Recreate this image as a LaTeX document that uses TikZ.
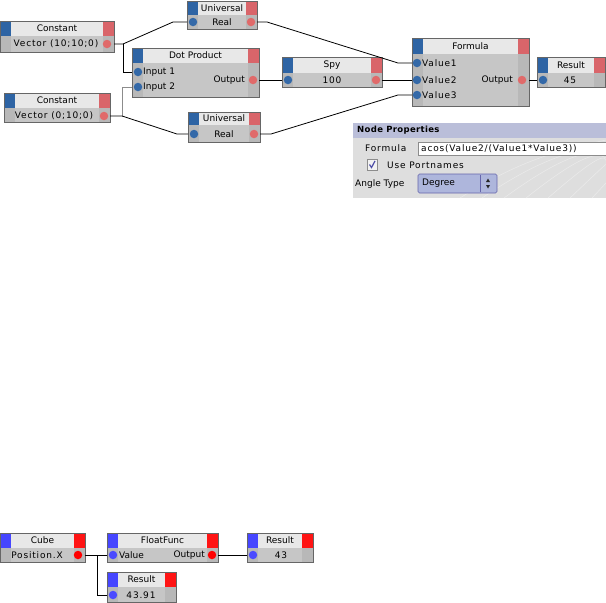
\documentclass[tikz,border=0pt]{standalone}
\usepackage{fontspec}
\setmainfont{DejaVu Sans}
\newfontfamily\wfont[LetterSpace=9]{DejaVu Sans}
\newfontfamily\wbfont[LetterSpace=4]{DejaVu Sans Bold}
\definecolor{tb}{HTML}{2E64A4}
\definecolor{tr}{HTML}{D9656A}
\definecolor{bb}{HTML}{4646FF}
\definecolor{br}{HTML}{FF1414}
\definecolor{tdb}{HTML}{3469A8}
\definecolor{tdr}{HTML}{E06A6A}
\definecolor{bdb}{HTML}{4A4AFF}
\definecolor{bdr}{HTML}{FF0000}
\definecolor{hdr}{HTML}{E8E8E8}
\definecolor{bodyg}{HTML}{C6C6C6}
\definecolor{stripg}{HTML}{B8B8B8}
\definecolor{panelg}{HTML}{DEDEDE}
\definecolor{titlebar}{HTML}{BABED9}
\definecolor{dropb}{HTML}{AEB6DC}
\tikzset{
  boxline/.style={draw=black!60, line width=0.6pt},
  ttl/.style={inner sep=0pt, font=\fontsize{9}{10}\selectfont},
  txt/.style={inner sep=0pt, font=\fontsize{9}{10}\selectfont},
  wtxt/.style={inner sep=0pt, font=\wfont\fontsize{9}{10}\selectfont},
  portb/.style={circle, fill=#1, inner sep=0pt, minimum size=8.5pt},
  wire/.style={line width=0.8pt, black},
  gwire/.style={line width=0.8pt, black!45},
  ptxt/.style={inner sep=0pt, anchor=west, font=\fontsize{9}{10}\selectfont},
  pwtxt/.style={inner sep=0pt, anchor=west, font=\wfont\fontsize{9}{10}\selectfont},
}
\newcommand\gbox[8]{%
  \fill[bodyg] (#2,#3) rectangle (#4,#5);
  \fill[stripg] (#2,#6) rectangle (#2+11,#5);
  \fill[stripg] (#4-11,#6) rectangle (#4,#5);
  \fill[hdr] (#2+11,#3) rectangle (#4-11,#6);
  \fill[#8b] (#2,#3) rectangle (#2+11,#6);
  \fill[#8r] (#4-11,#3) rectangle (#4,#6);
  \draw[boxline] (#2,#3) rectangle (#4,#5);
  \node[ttl] (#1) at ({(#2+#4)/2},{(#3+#6)/2}) {#7};
}
\begin{document}
\begin{tikzpicture}[x=1pt,y=-1pt]
\useasboundingbox (0,0) rectangle (606,603);
\fill[white] (0,0) rectangle (606,603);

% ---------- top graph ----------
\gbox{c1}{0}{21}{114}{52}{36}{Constant}{t}
\node[wtxt] (c1v) at (56,44) {Vector (10;10;0)};
\node[portb=tdr] (c1od) at (107,44) {};
\coordinate (c1o) at (114,44);

\gbox{u1}{187}{1}{257}{29}{15}{Universal}{t}
\node[txt] (u1v) at (222,22) {Real};
\node[portb=tdb] (u1id) at (193,22) {};
\node[portb=tdr] (u1od) at (251,22) {};
\coordinate (u1i) at (187,22);
\coordinate (u1o) at (257,22);

\gbox{dp}{132}{48}{259}{97}{63}{Dot Product}{t}
\node[portb=tdb] (dpi1d) at (138,72) {};
\node[portb=tdb] (dpi2d) at (138,87) {};
\node[ptxt] (dpl1) at (143,72) {Input 1};
\node[ptxt] (dpl2) at (143,87) {Input 2};
\node[txt,anchor=east] (dplo) at (245,80) {Output};
\node[portb=tdr] (dpod) at (253,80) {};
\coordinate (dpi1) at (132,72);
\coordinate (dpi2) at (132,87);
\coordinate (dpo) at (259,80);

\gbox{c2}{4}{93}{110}{122}{108}{Constant}{t}
\node[wtxt] (c2v) at (54,116) {Vector (0;10;0)};
\node[portb=tdr] (c2od) at (104,116) {};
\coordinate (c2o) at (110,116);

\gbox{u2}{188}{112}{260}{142}{125}{Universal}{t}
\node[txt] (u2v) at (224,134) {Real};
\node[portb=tdb] (u2id) at (194,134) {};
\node[portb=tdr] (u2od) at (254,134) {};
\coordinate (u2i) at (188,134);
\coordinate (u2o) at (260,134);

\gbox{spy}{282}{57}{382}{87}{73}{Spy}{t}
\node[wtxt] (spyv) at (332,80) {100};
\node[portb=tdb] (spyid) at (288,80) {};
\node[portb=tdr] (spyod) at (376,80) {};
\coordinate (spyi) at (282,80);
\coordinate (spyo) at (382,80);

\gbox{fm}{412}{38}{529}{106}{54}{Formula}{t}
\node[portb=tdb] (fmi1d) at (417,63) {};
\node[portb=tdb] (fmi2d) at (417,80) {};
\node[portb=tdb] (fmi3d) at (417,95) {};
\node[pwtxt] (fml1) at (422,63) {Value1};
\node[pwtxt] (fml2) at (422,80) {Value2};
\node[pwtxt] (fml3) at (422,95) {Value3};
\node[txt,anchor=east] (fmlo) at (513,80) {Output};
\node[portb=tdr] (fmod) at (522,80) {};
\coordinate (fmi1) at (412,63);
\coordinate (fmi2) at (412,80);
\coordinate (fmi3) at (412,95);
\coordinate (fmo) at (529,80);

\gbox{rs}{537}{57}{605}{87}{73}{Result}{t}
\node[wtxt] (rsv) at (570,80) {45};
\node[portb=tdb] (rsid) at (543,80) {};
\coordinate (rsi) at (537,80);

% junctions
\coordinate (j1) at (123,44);
\coordinate (j1a) at (173,22);
\coordinate (j2) at (122,116);
\coordinate (j2a) at (177,134);
\coordinate (j3) at (122,87);
\coordinate (j4) at (267,22);
\coordinate (j4a) at (398,63);
\coordinate (j5) at (271,134);
\coordinate (j5a) at (398,95);

\draw[gwire] (dpi2) -- (j3) -- (j2);
\draw[wire] (c1o) -- (j1) -- (j1a) -- (u1i);
\draw[wire] (j1) |- (dpi1);
\draw[wire] (c2o) -- (j2) -- (j2a) -- (u2i);
\draw[wire] (dpo) -- (spyi);
\draw[wire] (u1o) -- (j4) -- (j4a) -- (fmi1);
\draw[wire] (spyo) -- (fmi2);
\draw[wire] (u2o) -- (j5) -- (j5a) -- (fmi3);
\draw[wire] (fmo) -- (rsi);

% ---------- node properties panel ----------
\fill[panelg] (353,123) rectangle (606,198);
\begin{scope}
\clip (353,138) rectangle (606,198);
\foreach \k in {0,...,6} {
  \draw[black!8, line width=0.5pt] (460+\k*22,198) .. controls (520+\k*18,160) and (560+\k*12,150) .. (606,140+\k*6);
}
\end{scope}
\fill[titlebar] (353,123) rectangle (606,138);
\node[inner sep=0pt, anchor=west, font=\wbfont\fontsize{8.5}{9}\selectfont] (nptitle) at (357,130.5) {Node Properties};
\node[pwtxt] (npfl) at (365,148.5) {Formula};
\draw[fill=white, draw=black!45, line width=0.5pt] (418,142) rectangle (606,155);
\node[pwtxt] (npfv) at (421,148.5) {acos(Value2/(Value1*Value3))};
\draw[fill=black!5, draw=black!45, line width=0.5pt] (367,159) rectangle (377,170);
\draw[line width=1.2pt, color=black!50!blue!70] (369.5,164.5) -- (371.5,167.5) -- (375,161);
\node[pwtxt] (npcb) at (387,165) {Use Portnames};
\node[ptxt] (npat) at (355,184) {Angle Type};
\draw[fill=dropb, draw=black!55!blue!60, line width=0.6pt, rounded corners=1.5pt] (418,174) rectangle (497,193);
\draw[black!55!blue!60, line width=0.5pt] (480,175) -- (480,192);
\node[ptxt] (npdv) at (422,183.5) {Degree};
\fill[black!85] (486,182) -- (490,182) -- (488,178.5) -- cycle;
\fill[black!85] (486,185) -- (490,185) -- (488,188.5) -- cycle;

% ---------- bottom graph ----------
\gbox{cube}{0}{533}{85}{562}{548}{Cube}{b}
\node[wtxt] (cubev) at (37,555) {Position.X};
\node[portb=bdr] (cubeod) at (78,555) {};
\coordinate (cubeo) at (85,555);

\gbox{ff}{107}{533}{218}{562}{548}{FloatFunc}{b}
\node[portb=bdb] (ffid) at (113,555) {};
\node[ptxt] (ffl) at (119,555) {Value};
\node[txt,anchor=east] (fflo) at (205,555) {Output};
\node[portb=bdr] (ffod) at (212,555) {};
\coordinate (ffi) at (107,555);
\coordinate (ffo) at (218,555);

\gbox{r2}{247}{533}{313}{562}{548}{Result}{b}
\node[wtxt] (r2v) at (281,555) {43};
\node[portb=bdb] (r2id) at (253,555) {};
\coordinate (r2i) at (247,555);

\gbox{r3}{107}{572}{176}{602}{587}{Result}{b}
\node[wtxt] (r3v) at (141,595) {43.91};
\node[portb=bdb] (r3id) at (113,595) {};
\coordinate (r3i) at (107,595);

\coordinate (j6) at (97,555);
\draw[wire] (cubeo) -- (ffi);
\draw[wire] (j6) |- (r3i);
\draw[wire] (ffo) -- (r2i);
\end{tikzpicture}
\end{document}
